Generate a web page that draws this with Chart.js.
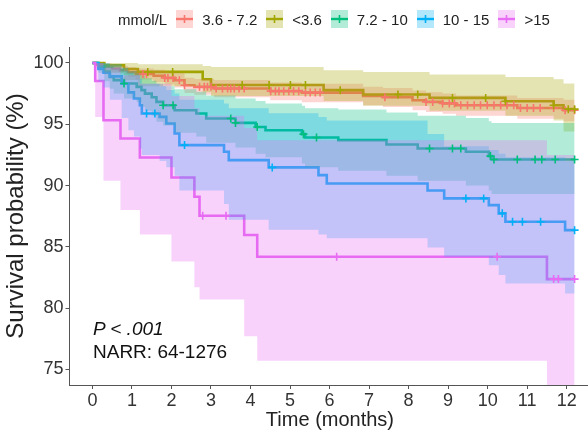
<!DOCTYPE html>
<html><head><meta charset="utf-8">
<script src="https://cdn.jsdelivr.net/npm/chart.js@4/dist/chart.umd.min.js"></script>
<style>
html,body{margin:0;padding:0;background:#fff;}
#wrap{position:relative;width:588px;height:432px;overflow:hidden;background:#fff;font-family:"Liberation Sans",Arial,Helvetica,sans-serif;}
#c{position:absolute;left:0;top:0;}
#legend{position:absolute;left:118px;top:10px;height:18px;display:flex;align-items:center;font-size:15px;color:#222;white-space:nowrap;}
#legend .lab{margin-right:9px;}
#legend canvas{margin-right:9px;display:block;}
.note{position:absolute;left:93px;font-size:19px;color:#111;white-space:nowrap;line-height:1;}
</style></head>
<body><div id="wrap"><canvas id="c" width="596" height="432"></canvas>
<div id="legend"></div>
<div class="note" style="top:319px;font-style:italic;">P &lt; .001</div>
<div class="note" style="top:342px;">NARR: 64-1276</div>
</div>
<script>
// ---- categories / colours ----
const legendTitle = 'mmol/L';
const groups = ['3.6 - 7.2', '<3.6', '7.2 - 10', '10 - 15', '>15'];
const lineColors = ['#F8766D', '#A3A500', '#00BF7D', '#00B0F6', '#E76BF3'];
const bandColors = ['rgba(248,118,109,0.3)', 'rgba(163,165,0,0.3)', 'rgba(0,191,125,0.3)', 'rgba(0,176,246,0.3)', 'rgba(231,107,243,0.3)'];

// ---- tick labels ----
const xTicks = [0,1,2,3,4,5,6,7,8,9,10,11,12];
const yTicks = [75,80,85,90,95,100];

// ---- group 3.6 - 7.2 ----
const time_g1  = [0, 0.1, 0.3, 0.5, 0.7, 0.9, 1.1, 1.55, 1.83, 2.08, 2.33, 2.58, 3.08, 4.5, 5.3, 6.85, 7.35, 8.1, 8.44, 8.86, 9.2, 10.75, 11.92, 12.2];
const surv_g1  = [100, 99.85, 99.7, 99.55, 99.4, 99.25, 99.1, 98.95, 98.78, 98.59, 98.18, 98.05, 97.91, 97.7, 97.58, 97.31, 97.2, 96.96, 96.82, 96.7, 96.55, 96.33, 96.15, 96.15];
const upper_g1 = [100, 100, 99.95, 99.85, 99.75, 99.65, 99.55, 99.45, 99.3, 99.15, 98.8, 98.7, 98.6, 98.4, 98.3, 98.05, 97.95, 97.75, 97.6, 97.5, 97.35, 97.15, 97.0, 97.0];
const lower_g1 = [100, 99.65, 99.45, 99.25, 99.05, 98.85, 98.65, 98.45, 98.25, 98.0, 97.55, 97.4, 97.2, 96.95, 96.8, 96.55, 96.4, 96.15, 96.0, 95.85, 95.7, 95.45, 95.25, 95.25];
const cens_g1  = [1.28, 1.37, 1.83, 1.91, 2.04, 2.2, 2.33, 2.71, 2.83, 2.91, 3.0, 3.13, 3.29, 3.42, 3.5, 3.59, 3.71, 3.84, 4.51, 4.63, 4.72, 4.84, 4.97, 5.09, 5.22, 5.39, 5.51, 5.64, 5.76, 7.4, 8.44, 8.61, 8.86, 9.03, 9.16, 9.32, 9.49, 9.66, 9.82, 9.99, 10.16, 10.33, 10.49, 10.66, 10.83, 11.0, 11.16, 11.33, 11.67, 11.96, 12.2];

// ---- group <3.6 ----
const time_g2  = [0, 0.3, 0.8, 1.15, 2.79, 3.0, 5.85, 6.85, 8.53, 10.45, 11.67, 11.92, 12.2];
const surv_g2  = [100, 99.8, 99.5, 99.27, 98.67, 98.2, 97.78, 97.42, 97.15, 96.88, 96.55, 96.23, 96.23];
const upper_g2 = [100, 100, 100, 99.9, 99.75, 99.67, 99.4, 99.27, 99.05, 98.86, 98.67, 98.32, 98.32];
const lower_g2 = [100, 99.2, 98.6, 98.1, 97.6, 97.3, 96.9, 96.5, 96.1, 95.7, 95.3, 94.4, 94.4];
const cens_g2  = [1.4, 2.03, 3.79, 4.47, 5.01, 5.39, 6.27, 7.73, 8.23, 9.11, 9.95, 10.45, 11.67, 12.04, 12.2];

// ---- group 7.2 - 10 ----
const time_g3  = [0, 0.15, 0.3, 0.44, 0.54, 0.8, 1.12, 1.24, 1.33, 1.5, 1.62, 1.79, 2.08, 2.63, 2.88, 3.62, 4.13, 4.38, 5.3, 5.38, 6.22, 7.44, 8.23, 9.45, 10.03, 10.1, 12.2];
const surv_g3  = [100, 99.7, 99.3, 98.86, 98.6, 98.32, 98.05, 97.78, 97.5, 97.2, 96.82, 96.55, 96.14, 95.88, 95.47, 95.11, 94.78, 94.51, 94.19, 93.92, 93.7, 93.35, 93.02, 92.75, 92.4, 92.12, 92.12];
const upper_g3 = [100, 100, 99.9, 99.7, 99.55, 99.35, 99.15, 98.95, 98.75, 98.55, 98.3, 98.1, 97.85, 97.65, 97.35, 97.1, 96.9, 96.7, 96.5, 96.3, 96.2, 95.95, 95.7, 95.5, 95.25, 95.1, 95.1];
const lower_g3 = [100, 99.2, 98.5, 97.9, 97.5, 97.1, 96.8, 96.4, 96.1, 95.7, 95.2, 94.9, 94.3, 94.0, 93.5, 93.1, 92.6, 92.3, 91.8, 91.5, 91.2, 90.8, 90.4, 90.0, 89.6, 89.3, 89.3];
const cens_g3  = [0.8, 1.79, 2.04, 3.5, 3.62, 4.17, 5.34, 5.67, 8.53, 9.11, 9.32, 10.07, 10.16, 10.75, 11.2, 11.37, 11.71, 12.2];

// ---- group 10 - 15 ----
const time_g4  = [0, 0.15, 0.28, 0.44, 0.74, 0.91, 1.05, 1.2, 1.25, 1.7, 1.87, 2.08, 2.2, 3.33, 3.45, 4.46, 5.72, 5.93, 8.48, 8.9, 10.03, 10.28, 10.45, 11.96, 12.2];
const surv_g4  = [100, 99.5, 99.2, 98.9, 98.3, 97.6, 97.1, 96.55, 95.88, 95.6, 95.06, 94.25, 93.3, 92.75, 92.07, 91.48, 90.85, 90.17, 89.6, 88.95, 88.4, 87.73, 87.04, 86.36, 86.36];
const upper_g4 = [100, 100, 100, 99.9, 99.6, 99.2, 99.0, 98.7, 98.3, 98.1, 97.8, 97.5, 97.0, 96.7, 96.3, 95.9, 95.6, 95.3, 94.2, 93.2, 92.9, 92.6, 92.3, 92.0, 92.0];
const lower_g4 = [100, 98.5, 98.0, 97.0, 95.5, 94.5, 94.0, 93.0, 92.5, 92.0, 91.5, 90.8, 89.6, 88.5, 87.2, 86.4, 86.0, 85.7, 84.95, 84.2, 83.5, 82.7, 82.0, 81.2, 81.2];
const cens_g4  = [1.37, 1.58, 2.33, 4.55, 9.45, 9.9, 10.37, 10.63, 10.88, 11.34, 12.2];

// ---- group >15 ----
const time_g5  = [0, 0.07, 0.28, 0.71, 1.2, 2.0, 2.58, 2.71, 3.84, 4.17, 11.5, 12.2];
const surv_g5  = [100, 98.53, 95.33, 93.84, 92.29, 90.66, 89.08, 87.53, 85.96, 84.19, 82.37, 82.37];
const upper_g5 = [100, 100, 99.6, 99.0, 98.3, 97.3, 96.3, 95.7, 94.7, 93.7, 92.5, 92.5];
const lower_g5 = [100, 95.6, 90.4, 88.0, 86.0, 83.8, 81.7, 80.7, 77.7, 75.7, 70, 70];
const cens_g5  = [2.79, 3.38, 6.18, 10.24, 11.67, 11.79, 12.2];

const series = [
  {time: time_g1, surv: surv_g1, upper: upper_g1, lower: lower_g1, cens: cens_g1},
  {time: time_g2, surv: surv_g2, upper: upper_g2, lower: lower_g2, cens: cens_g2},
  {time: time_g3, surv: surv_g3, upper: upper_g3, lower: lower_g3, cens: cens_g3},
  {time: time_g4, surv: surv_g4, upper: upper_g4, lower: lower_g4, cens: cens_g4},
  {time: time_g5, surv: surv_g5, upper: upper_g5, lower: lower_g5, cens: cens_g5}
];

function pts(t, v) { return t.map((x, i) => ({x: x, y: v[i]})); }
function survAt(t, s, at) { let v = s[0]; for (let i = 0; i < t.length; i++) { if (t[i] <= at + 1e-9) v = s[i]; } return v; }

const datasets = [];
// survival step lines (drawn first, underneath ribbons)
series.forEach((g, k) => {
  datasets.push({label: groups[k], data: pts(g.time, g.surv), stepped: true, borderColor: lineColors[k], borderWidth: 2.6,
    pointRadius: 0, fill: false, order: 40 - k});
});
// confidence ribbons
series.forEach((g, k) => {
  datasets.push({label: groups[k] + ' upper', data: pts(g.time, g.upper), stepped: true, borderColor: 'rgba(0,0,0,0)', borderWidth: 1,
    backgroundColor: bandColors[k], pointRadius: 0, fill: '+1', order: 30 - k});
  datasets.push({label: groups[k] + ' lower', data: pts(g.time, g.lower), stepped: true, borderColor: 'rgba(0,0,0,0)', borderWidth: 1,
    pointRadius: 0, fill: false, order: 30 - k});
});
// censor marks
series.forEach((g, k) => {
  datasets.push({label: groups[k] + ' censored', data: g.cens.map(c => ({x: c, y: survAt(g.time, g.surv, c)})), showLine: false,
    pointStyle: 'cross', pointRadius: 4, pointBorderWidth: 1.6, pointBorderColor: lineColors[k], borderColor: lineColors[k], order: 10 - k});
});

const fam = '"Liberation Sans", Arial, Helvetica, sans-serif';
new Chart(document.getElementById('c'), {
  type: 'line',
  data: {datasets},
  options: {
    responsive: false, animation: false, devicePixelRatio: 1, events: [],
    layout: {padding: {top: 47, right: 2, left: 0, bottom: 0}},
    plugins: {legend: {display: false}, tooltip: {enabled: false}, filler: {drawTime: 'beforeDatasetDraw', propagate: false}},
    scales: {
      x: {type: 'linear', min: -0.58, max: 12.6,
        afterBuildTicks: s => { s.ticks = xTicks.map(v => ({value: v})); },
        afterFit: s => { s.height = 47; },
        grid: {drawOnChartArea: false, drawTicks: true, tickLength: 4, color: '#555', lineWidth: 1},
        border: {display: true, color: '#555', width: 1},
        ticks: {color: '#333', font: {size: 18, family: fam}, padding: 1, autoSkip: false, maxRotation: 0},
        title: {display: true, text: 'Time (months)', color: '#222', font: {size: 20, family: fam}, padding: {top: 0, bottom: 0}}
      },
      y: {type: 'linear', min: 73.73, max: 101.3,
        afterBuildTicks: s => { s.ticks = yTicks.map(v => ({value: v})); },
        afterFit: s => { s.width = 69.5; },
        grid: {drawOnChartArea: false, drawTicks: true, tickLength: 4, color: '#555', lineWidth: 1},
        border: {display: true, color: '#555', width: 1},
        ticks: {color: '#333', font: {size: 18, family: fam}, padding: 2},
        title: {display: true, text: 'Survival probability (%)', color: '#222', font: {size: 24, family: fam}, padding: {top: 2, bottom: 0}}
      }
    }
  }
});

// legend (ggplot style keys: ribbon fill + line + censor cross)
const leg = document.getElementById('legend');
const t0 = document.createElement('span'); t0.className = 'lab'; t0.textContent = legendTitle; leg.appendChild(t0);
groups.forEach((name, k) => {
  const cv = document.createElement('canvas'); cv.width = 17; cv.height = 18;
  const c = cv.getContext('2d');
  c.fillStyle = bandColors[k]; c.fillRect(0, 0, 17, 18);
  c.strokeStyle = lineColors[k]; c.lineWidth = 2.4;
  c.beginPath(); c.moveTo(0, 9); c.lineTo(17, 9); c.stroke();
  c.lineWidth = 1.6; c.beginPath(); c.moveTo(8.5, 5); c.lineTo(8.5, 13); c.stroke();
  leg.appendChild(cv);
  const s = document.createElement('span'); s.className = 'lab'; s.textContent = name; leg.appendChild(s);
});
</script>
</body></html>
